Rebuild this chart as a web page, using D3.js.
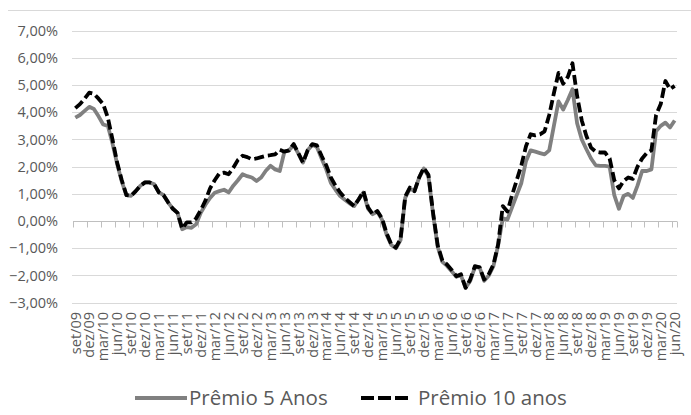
<!DOCTYPE html>
<html><head><meta charset="utf-8">
<script src="https://cdn.jsdelivr.net/npm/d3@7/dist/d3.min.js"></script>
<style>body{margin:0;background:#fff} svg{display:block} text{font-family:"Open Sans",sans-serif}</style>
</head><body><svg id="c" width="691" height="415"></svg>
<script>
const categories = [
"set/09","out/09","nov/09","dez/09",
"jan/10","fev/10","mar/10","abr/10","mai/10","jun/10","jul/10","ago/10","set/10","out/10","nov/10","dez/10",
"jan/11","fev/11","mar/11","abr/11","mai/11","jun/11","jul/11","ago/11","set/11","out/11","nov/11","dez/11",
"jan/12","fev/12","mar/12","abr/12","mai/12","jun/12","jul/12","ago/12","set/12","out/12","nov/12","dez/12",
"jan/13","fev/13","mar/13","abr/13","mai/13","jun/13","jul/13","ago/13","set/13","out/13","nov/13","dez/13",
"jan/14","fev/14","mar/14","abr/14","mai/14","jun/14","jul/14","ago/14","set/14","out/14","nov/14","dez/14",
"jan/15","fev/15","mar/15","abr/15","mai/15","jun/15","jul/15","ago/15","set/15","out/15","nov/15","dez/15",
"jan/16","fev/16","mar/16","abr/16","mai/16","jun/16","jul/16","ago/16","set/16","out/16","nov/16","dez/16",
"jan/17","fev/17","mar/17","abr/17","mai/17","jun/17","jul/17","ago/17","set/17","out/17","nov/17","dez/17",
"jan/18","fev/18","mar/18","abr/18","mai/18","jun/18","jul/18","ago/18","set/18","out/18","nov/18","dez/18",
"jan/19","fev/19","mar/19","abr/19","mai/19","jun/19","jul/19","ago/19","set/19","out/19","nov/19","dez/19",
"jan/20","fev/20","mar/20","abr/20","mai/20","jun/20"];

const tickLabels = [
"set/09","dez/09","mar/10","jun/10","set/10","dez/10","mar/11","jun/11","set/11","dez/11",
"mar/12","jun/12","set/12","dez/12","mar/13","jun/13","set/13","dez/13","mar/14","jun/14",
"set/14","dez/14","mar/15","jun/15","set/15","dez/15","mar/16","jun/16","set/16","dez/16",
"mar/17","jun/17","set/17","dez/17","mar/18","jun/18","set/18","dez/18","mar/19","jun/19",
"set/19","dez/19","mar/20","jun/20"];

const yTicks = [-3,-2,-1,0,1,2,3,4,5,6,7];

const premio5 = [
3.8,3.9,4.05,4.2,4.12,3.85,3.55,3.5,2.85,2.1,1.45,0.95,
0.93,1.1,1.3,1.42,1.42,1.35,1.05,0.95,0.68,0.45,0.3,-0.3,
-0.22,-0.25,-0.12,0.3,0.6,0.85,1.04,1.1,1.15,1.05,1.3,1.5,
1.72,1.65,1.6,1.47,1.6,1.85,2.03,1.9,1.84,2.55,2.6,2.8,
2.48,2.15,2.6,2.8,2.72,2.3,1.9,1.4,1.15,0.92,0.78,0.65,
0.55,0.8,1.05,0.45,0.25,0.35,0.05,-0.5,-0.88,-1.0,-0.7,0.85,
1.2,1.1,1.6,1.93,1.65,0.25,-0.95,-1.5,-1.65,-1.85,-2.05,-2.0,
-2.45,-2.2,-1.7,-1.7,-2.2,-2.0,-1.65,-0.9,0.1,0.05,0.5,0.95,
1.4,2.2,2.6,2.55,2.5,2.45,2.6,3.5,4.4,4.1,4.45,4.85,
3.6,3.0,2.64,2.3,2.05,2.03,2.03,2.0,0.95,0.45,0.92,1.0,
0.85,1.3,1.84,1.84,1.9,3.3,3.5,3.62,3.44,3.7];

const premio10 = [
4.15,4.3,4.5,4.72,4.68,4.5,4.3,3.8,3.0,2.15,1.5,0.95,
0.93,1.1,1.3,1.42,1.42,1.35,1.05,0.95,0.68,0.45,0.3,-0.28,
-0.05,-0.05,0.1,0.4,0.75,1.2,1.5,1.75,1.78,1.72,1.96,2.25,
2.4,2.35,2.27,2.3,2.35,2.4,2.42,2.45,2.62,2.55,2.6,2.83,
2.5,2.15,2.6,2.83,2.78,2.4,2.05,1.6,1.3,1.05,0.85,0.7,
0.55,0.8,1.1,0.5,0.25,0.37,0.1,-0.45,-0.85,-0.98,-0.65,0.9,
1.23,1.1,1.6,1.96,1.7,0.3,-0.9,-1.45,-1.6,-1.8,-2.03,-1.96,
-2.46,-2.15,-1.66,-1.7,-2.15,-1.95,-1.6,-0.86,0.55,0.35,0.95,1.5,
2.05,2.75,3.19,3.15,3.19,3.3,3.9,4.7,5.45,5.05,5.3,5.8,
4.6,3.7,3.13,2.7,2.55,2.52,2.52,2.3,1.5,1.2,1.47,1.6,
1.55,2.0,2.3,2.5,2.6,3.9,4.3,5.15,4.85,4.97];

const seriesNames = ["Prêmio 5 Anos","Prêmio 10 anos"];

const svg = d3.select("#c");
const x = d3.scaleBand().domain(categories).range([73,677]).padding(0);
const bw = x.bandwidth();
const y = d3.scaleLinear().domain([-3,7]).range([302.6,30.7]);
const fmt = v => d3.format(".2f")(v).replace(".",",") + "%";

svg.append("rect").attr("width",691).attr("height",415).attr("fill","#fff");
svg.append("line").attr("x1",8).attr("x2",691).attr("y1",10.5).attr("y2",10.5)
  .attr("stroke","#d9d9d9").attr("stroke-width",1);

// gridlines
svg.append("g").selectAll("line").data(yTicks.filter(d=>d!==0)).join("line")
  .attr("x1",72).attr("x2",677).attr("y1",d=>Math.round(y(d))+0.5).attr("y2",d=>Math.round(y(d))+0.5)
  .attr("stroke","#d9d9d9").attr("stroke-width",1);

// y labels
svg.append("g").selectAll("text").data(yTicks).join("text")
  .attr("x",58).attr("y",d=>y(d)).attr("dy","0.36em").attr("text-anchor","end")
  .attr("font-size",14.5).attr("fill","#595959").text(d=>fmt(d));

// zero axis with ticks
const y0 = Math.round(y(0))+0.5;
svg.append("line").attr("x1",73).attr("x2",677).attr("y1",y0).attr("y2",y0)
  .attr("stroke","#bfbfbf").attr("stroke-width",1);
const tickPos = tickLabels.map(l=>x(l)).concat([x.range()[1]]);
svg.append("g").selectAll("line").data(tickPos).join("line")
  .attr("x1",d=>Math.round(d)+0.5).attr("x2",d=>Math.round(d)+0.5).attr("y1",y0).attr("y2",y0+6)
  .attr("stroke","#bfbfbf").attr("stroke-width",1);

// x labels
svg.append("g").selectAll("text").data(tickLabels).join("text")
  .attr("transform",d=>`translate(${x(d)+bw/2},312) rotate(-90)`)
  .attr("dy","0.36em").attr("text-anchor","end").attr("font-size",14.5).attr("fill","#595959")
  .text(d=>d);

const line = d3.line().x((d,i)=>x(categories[i])+bw/2).y(d=>y(d));
svg.append("path").datum(premio5).attr("d",line).attr("fill","none")
  .attr("stroke","#808080").attr("stroke-width",3.8).attr("stroke-linejoin","round");
svg.append("path").datum(premio10).attr("d",line).attr("fill","none")
  .attr("stroke","#000").attr("stroke-width",3.8).attr("stroke-dasharray","10,4").attr("stroke-linejoin","round");

// legend
const ly = 398;
svg.append("line").attr("x1",135).attr("x2",187).attr("y1",ly).attr("y2",ly)
  .attr("stroke","#808080").attr("stroke-width",4);
svg.append("text").attr("x",189).attr("y",ly).attr("dy","0.36em").attr("font-size",20.5)
  .attr("fill","#595959").text(seriesNames[0]);
svg.append("line").attr("x1",361).attr("x2",408).attr("y1",ly).attr("y2",ly)
  .attr("stroke","#000").attr("stroke-width",4).attr("stroke-dasharray","13,4");
svg.append("text").attr("x",418).attr("y",ly).attr("dy","0.36em").attr("font-size",20.5)
  .attr("fill","#595959").text(seriesNames[1]);
</script></body></html>
